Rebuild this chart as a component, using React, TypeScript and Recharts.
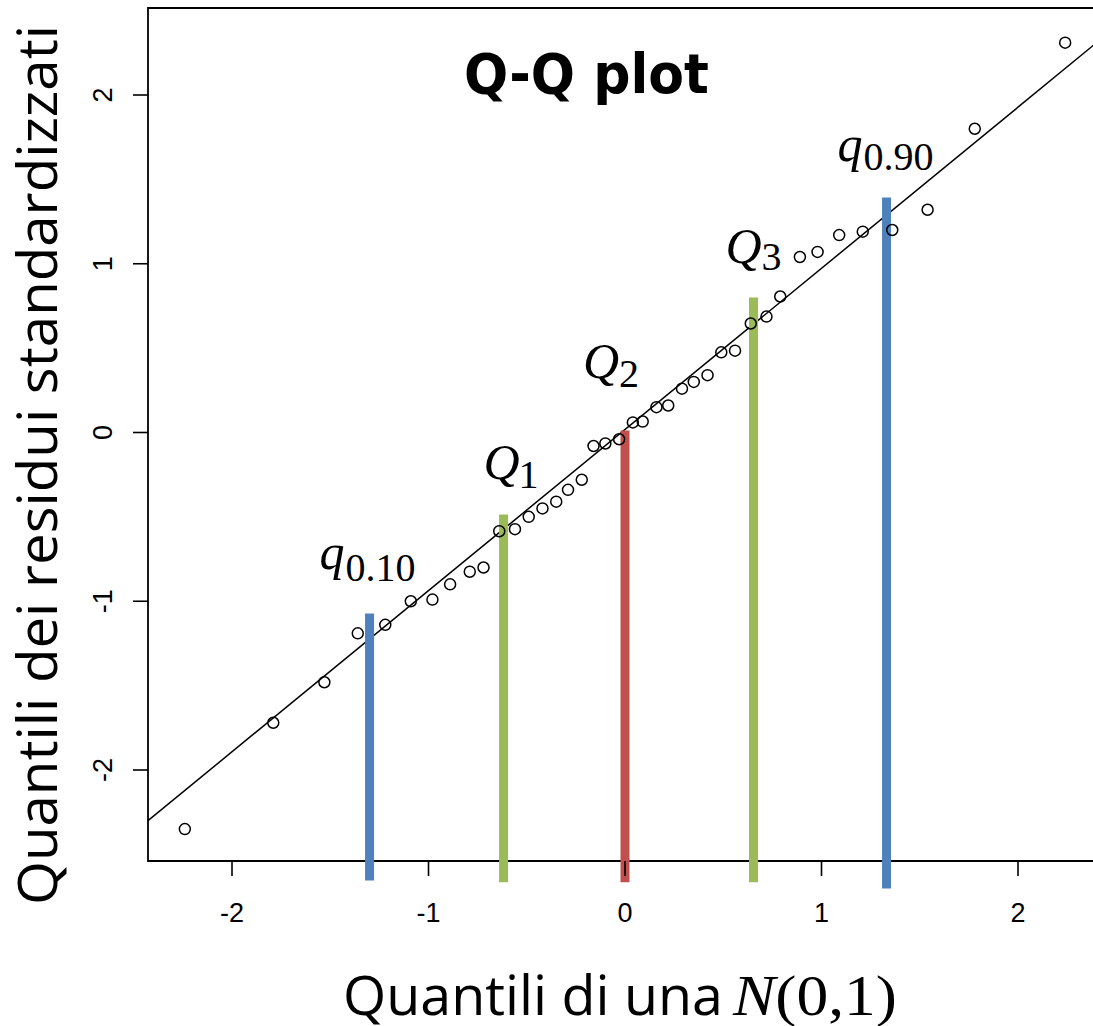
import React from 'react';
import { ScatterChart, Scatter, XAxis, YAxis, ReferenceLine, ReferenceArea } from 'recharts';

// quantili teorici di una N(0,1) (asse x) e residui standardizzati (asse y)
const theoretical = [
  -2.24, -1.79, -1.53, -1.36, -1.22, -1.09, -0.98, -0.89, -0.79, -0.72,
  -0.64, -0.56, -0.49, -0.42, -0.35, -0.29, -0.22, -0.16, -0.1, -0.03,
  0.04, 0.09, 0.16, 0.22, 0.29, 0.35, 0.42, 0.49, 0.56, 0.64,
  0.72, 0.79, 0.89, 0.98, 1.09, 1.21, 1.36, 1.54, 1.78, 2.24,
];
const residuals = [
  -2.35, -1.72, -1.48, -1.19, -1.14, -1.0, -0.99, -0.9, -0.825, -0.8,
  -0.585, -0.573, -0.5, -0.45, -0.41, -0.34, -0.28, -0.08, -0.065, -0.04,
  0.06, 0.065, 0.15, 0.16, 0.26, 0.3, 0.34, 0.475, 0.485, 0.646,
  0.687, 0.806, 1.04, 1.07, 1.17, 1.19, 1.2, 1.32, 1.8, 2.31,
];

const xTicks = [-2, -1, 0, 1, 2];
const yTicks = [-2, -1, 0, 1, 2];

// retta di riferimento (qqline)
const fitIntercept = 0.018;
const fitSlope = 0.955;

// barre dei quantili
const quantileName = ['q', 'Q', 'Q', 'Q', 'q'];
const quantileSub = ['0.10', '1', '2', '3', '0.90'];
const quantileX = [-1.3, -0.618, 0, 0.654, 1.331];
const quantileTop = [-1.073, -0.486, 0.012, 0.8, 1.393];
const quantileBottom = [-2.655, -2.665, -2.665, -2.665, -2.702];

const X_DOMAIN: [number, number] = [-2.4275, 2.4173];
const Y_DOMAIN: [number, number] = [-2.5393, 2.5156];

const BLUE = '#4f81bd';
const GREEN = '#9bbb59';
const RED = '#c0504d';
const barColors = [BLUE, GREEN, RED, GREEN, BLUE];

// posizione delle etichette rispetto alla cima di ogni barra
const labelLayout = [
  { dx: -50, dy: -45, sdx: -24, sdy: -33 },
  { dx: -20, dy: -36, sdx: 15, sdy: -27 },
  { dx: -42, dy: -52, sdx: -6, sdy: -43 },
  { dx: -28, dy: -35, sdx: 8, sdy: -28 },
  { dx: -49, dy: -36, sdx: -23, sdy: -27 },
];

const TICK_FONT = '"Liberation Sans", Arial, sans-serif';
const LABEL_FONT = '"Open Sans", "Noto Sans", sans-serif';
const MATH_FONT = '"Liberation Serif", "DejaVu Serif", serif';

const points = theoretical.map((x, i) => ({ x, y: residuals[i] }));

const XTick = (props: any) => {
  const { x, y, payload } = props;
  return (
    <text x={x} y={y + 46} textAnchor="middle" fontFamily={TICK_FONT} fontSize={27} fill="#000">
      {payload.value}
    </text>
  );
};

const YTick = (props: any) => {
  const { x, y, payload } = props;
  const bx = x - 21;
  return (
    <text x={bx} y={y} transform={`rotate(-90 ${bx} ${y})`} textAnchor="middle" fontFamily={TICK_FONT} fontSize={27} fill="#000">
      {payload.value}
    </text>
  );
};

const circle = (props: any) => (
  <circle cx={props.cx} cy={props.cy} r={5.5} fill="none" stroke="#000" strokeWidth={1.5} />
);

const renderQuantileLabel = (p: any, i: number) => {
  const vb = p.viewBox || {};
  const cx = vb.x;
  const top = vb.y;
  const l = labelLayout[i];
  return (
    <text fill="#000">
      <tspan x={cx + l.dx} y={top + l.dy} fontFamily={MATH_FONT} fontStyle="italic" fontSize={50}>
        {quantileName[i]}
      </tspan>
      <tspan x={cx + l.sdx} y={top + l.sdy} fontFamily={MATH_FONT} fontSize={40}>
        {quantileSub[i]}
      </tspan>
    </text>
  );
};

const renderTitle = () => (
  <text x={464} y={93} fontFamily='"DejaVu Sans", Verdana, sans-serif' fontWeight="bold" fontSize={55}
    textLength={245} lengthAdjust="spacingAndGlyphs" fill="#000">
    Q-Q plot
  </text>
);

const renderXLabel = () => (
  <g>
    <text x={343} y={1015} fontFamily={LABEL_FONT} fontSize={55} textLength={380} lengthAdjust="spacingAndGlyphs" fill="#000">
      Quantili di una
    </text>
    <text x={733} y={1015} fontFamily={MATH_FONT} fontSize={58} textLength={164} lengthAdjust="spacingAndGlyphs" fill="#000">
      <tspan fontStyle="italic">N</tspan>
      <tspan>(0,1)</tspan>
    </text>
  </g>
);

const renderYLabel = () => (
  <text x={57} y={465} transform="rotate(-90 57 465)" textAnchor="middle" fontFamily={LABEL_FONT} fontSize={55}
    textLength={880} lengthAdjust="spacingAndGlyphs" fill="#000">
    Quantili dei residui standardizzati
  </text>
);

export default function App() {
  return (
    <div style={{ position: 'absolute', left: 0, top: 0, width: 1093, height: 1026, overflow: 'hidden', background: '#fff' }}>
      <ScatterChart width={1100} height={1026} margin={{ top: 8, right: 0, bottom: 0, left: 0 }}>
        <XAxis
          type="number"
          dataKey="x"
          domain={X_DOMAIN}
          allowDataOverflow
          ticks={xTicks}
          height={165}
          tickSize={15}
          tickMargin={0}
          axisLine={false}
          tickLine={{ stroke: '#000', strokeWidth: 1.6 }}
          tick={<XTick />}
          label={renderXLabel}
        />
        <YAxis
          type="number"
          dataKey="y"
          domain={Y_DOMAIN}
          allowDataOverflow
          ticks={yTicks}
          width={148}
          tickSize={15}
          tickMargin={0}
          axisLine={false}
          tickLine={{ stroke: '#000', strokeWidth: 1.6 }}
          tick={<YTick />}
          label={renderYLabel}
        />
        <ReferenceArea
          x1={X_DOMAIN[0]}
          x2={X_DOMAIN[1]}
          y1={Y_DOMAIN[0]}
          y2={Y_DOMAIN[1]}
          fill="none"
          stroke="#000"
          strokeWidth={1.8}
          fillOpacity={0}
          label={renderTitle}
        />
        <Scatter data={points} shape={circle} isAnimationActive={false} />
        <ReferenceLine
          segment={[
            { x: X_DOMAIN[0], y: fitIntercept + fitSlope * X_DOMAIN[0] },
            { x: X_DOMAIN[1], y: fitIntercept + fitSlope * X_DOMAIN[1] },
          ]}
          stroke="#000"
          strokeWidth={1.5}
        />
        {quantileX.map((qx, i) => (
          <ReferenceLine
            key={`q-${i}`}
            segment={[
              { x: qx, y: quantileBottom[i] },
              { x: qx, y: quantileTop[i] },
            ]}
            ifOverflow="visible"
            stroke={barColors[i]}
            strokeWidth={9}
            label={(p: any) => renderQuantileLabel(p, i)}
          />
        ))}
      </ScatterChart>
    </div>
  );
}
